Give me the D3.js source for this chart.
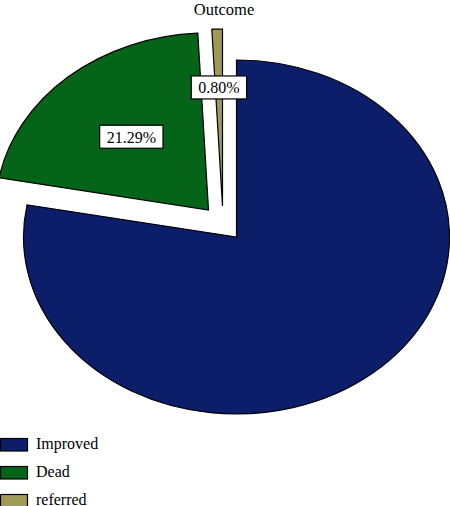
<!DOCTYPE html>
<html><head><meta charset="utf-8">
<script src="https://cdn.jsdelivr.net/npm/d3@7"></script>
<style>body{margin:0;background:#fff}svg{display:block}</style>
</head><body>
<svg id="c" width="450" height="506"></svg>
<script>
// data
const title = "Outcome";
const categories = ["Improved", "Dead", "referred"];
const percents = [77.91, 21.29, 0.80];
const labels = ["", "21.29%", "0.80%"];
// styles
const colors = ["#0c1e6a", "#056418", "#a09a56"];
const explode = [[0, 0], [-28, -27], [-14, -31]];
const labelFrac = [0, 0.55, 0.67];
const FONT = "'Liberation Serif', 'Times New Roman', Times, 'DejaVu Serif', serif";

const cx = 236.5, cy = 237, ry = 177, rx = 213;
const sx = rx / ry;
const svg = d3.select("#c");

svg.append("text").attr("x", 224).attr("y", 14.5).attr("text-anchor", "middle")
  .attr("font-family", FONT).attr("font-size", 16.5).text(title);

const pie = d3.pie().sort(null).value(d => d).startAngle(0).endAngle(2 * Math.PI);
const arcs = pie(percents);
const arc = d3.arc().innerRadius(0).outerRadius(ry);

const g = svg.append("g");
arcs.forEach((a, i) => {
  g.append("path")
    .attr("d", arc(a))
    .attr("transform", `translate(${cx + explode[i][0]},${cy + explode[i][1]}) scale(${sx},1)`)
    .attr("fill", colors[i]).attr("stroke", "#000").attr("stroke-width", 1.2)
    .attr("vector-effect", "non-scaling-stroke").attr("stroke-linejoin", "miter");
});

arcs.forEach((a, i) => {
  if (!labels[i]) return;
  const la = d3.arc().innerRadius(ry * labelFrac[i]).outerRadius(ry * labelFrac[i]);
  const [lx, ly] = la.centroid(a);
  const px = cx + explode[i][0] + lx * sx, py = cy + explode[i][1] + ly;
  const lg = svg.append("g").attr("transform", `translate(${px},${py})`);
  const t = lg.append("text").attr("text-anchor", "middle").attr("dy", "0.36em")
    .attr("font-family", FONT).attr("font-size", 16).text(labels[i]);
  const bb = t.node().getBBox();
  lg.insert("rect", "text").attr("x", bb.x - 7).attr("y", -11.5).attr("width", bb.width + 14)
    .attr("height", 23).attr("fill", "#fff").attr("stroke", "#000").attr("stroke-width", 1.2);
});

const lgd = svg.append("g");
categories.forEach((c, i) => {
  const y = 438 + i * 28;
  lgd.append("rect").attr("x", 0.5).attr("y", y + 0.5).attr("width", 27).attr("height", 12.5)
    .attr("fill", colors[i]).attr("stroke", "#000").attr("stroke-width", 1.2);
  lgd.append("text").attr("x", 36).attr("y", y + 10.5)
    .attr("font-family", FONT).attr("font-size", 16).text(c);
});
</script>
</body></html>
